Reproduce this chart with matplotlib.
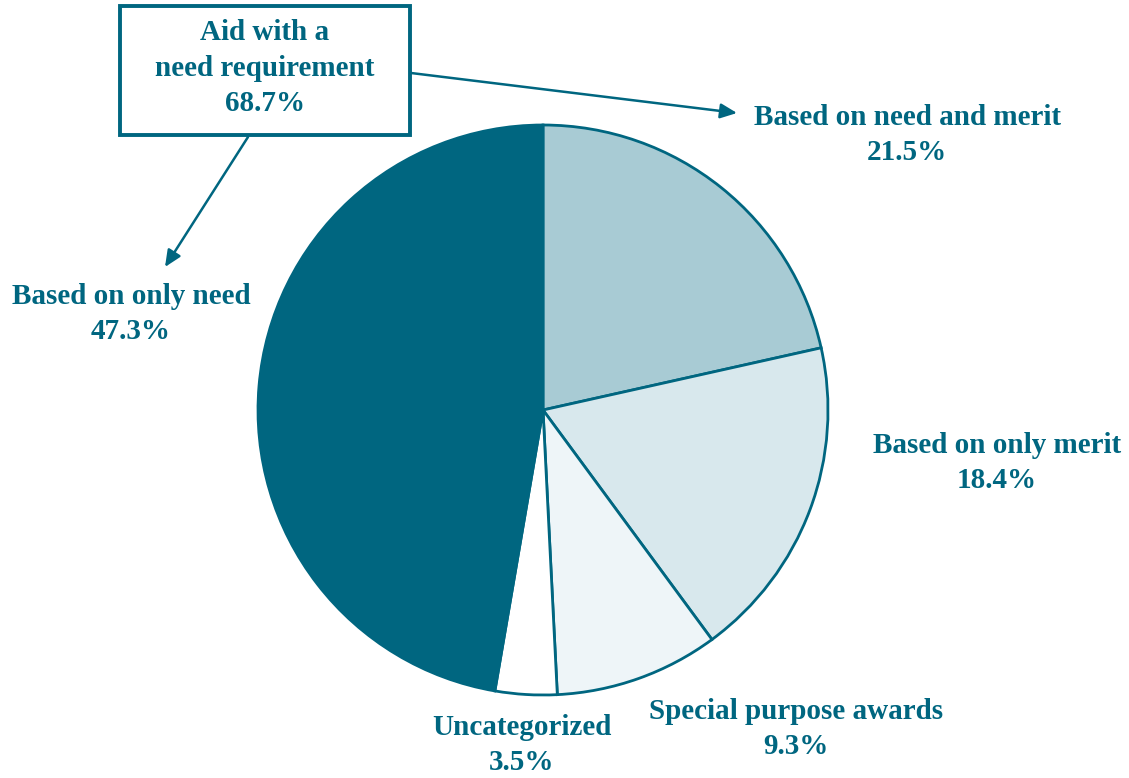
import matplotlib
matplotlib.use("Agg")
import matplotlib.pyplot as plt
from matplotlib.patches import Rectangle

categories = ["Based on need and merit", "Based on only merit", "Special purpose awards",
              "Uncategorized", "Based on only need"]
values = [21.5, 18.4, 9.3, 3.5, 47.3]
colors = ["#A8CBD4", "#D8E8ED", "#EEF5F8", "#FFFFFF", "#006680"]
group_label = "Aid with a\nneed requirement\n68.7%"

TEAL = "#006680"
W, H = 1129, 778

fig = plt.figure(figsize=(W / 100, H / 100), dpi=100)
ax = fig.add_axes([0, 0, 1, 1])

def py(y):
    return H - y

ax.pie(values, colors=colors, startangle=90, counterclock=False,
       center=(543, py(410)), radius=285, frame=True,
       wedgeprops=dict(edgecolor=TEAL, linewidth=2.0))
ax.set_xlim(0, W)
ax.set_ylim(0, H)
ax.set_aspect("equal")
ax.axis("off")

font = dict(family="Liberation Serif", fontweight="bold", color=TEAL, fontsize=21,
            ha="center", va="center", linespacing=1.4)

label_pos = [(907, 135), (997, 463), (796, 729), (522, 745), (131, 314)]
for cat, v, (x, y) in zip(categories, values, label_pos):
    ax.text(x, py(y), f"{cat}\n{v}%", **font)

ax.add_patch(Rectangle((120, py(135)), 290, 129, facecolor="white", edgecolor=TEAL,
                       linewidth=2.8, zorder=3))
ax.text(265, py(68), group_label, zorder=4, **font)

arrow = dict(arrowstyle="-|>,head_length=1.0,head_width=0.45", color=TEAL, lw=1.8,
             shrinkA=0, shrinkB=0)
ax.annotate("", xy=(737, py(113)), xytext=(411, py(73)), arrowprops=arrow)
ax.annotate("", xy=(165, py(267)), xytext=(248, py(137)), arrowprops=arrow)

fig.savefig("out.png", dpi=100)
